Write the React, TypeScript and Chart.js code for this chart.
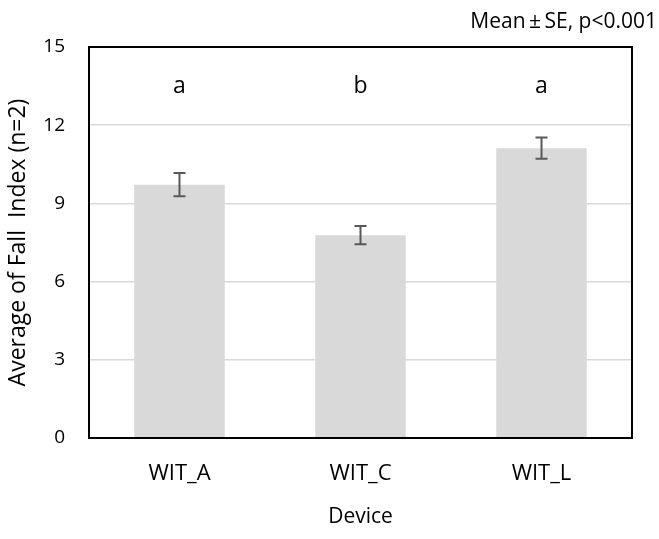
import { useEffect, useRef } from "react";
import { Chart, registerables } from "chart.js";

Chart.register(...registerables);

const categories = ["WIT_A", "WIT_C", "WIT_L"];
const means = [9.72, 7.78, 11.12];
const standardErrors = [0.45, 0.35, 0.41];
const groupLetters = ["a", "b", "a"];
const yTickValues = [0, 3, 6, 9, 12, 15];

const FONT = "'Open Sans', sans-serif";
const TEXT = "#000000";

const overlayPlugin = {
  id: "overlay",
  afterDatasetsDraw(chart: any) {
    const ctx = chart.ctx;
    const x = chart.scales.x;
    const y = chart.scales.y;
    ctx.save();
    // error bars
    ctx.strokeStyle = "#595959";
    ctx.lineWidth = 2;
    means.forEach((m, i) => {
      const px = x.getPixelForValue(i);
      const top = y.getPixelForValue(m + standardErrors[i]);
      const bot = y.getPixelForValue(m - standardErrors[i]);
      ctx.beginPath();
      ctx.moveTo(px, top);
      ctx.lineTo(px, bot);
      ctx.moveTo(px - 6, top);
      ctx.lineTo(px + 6, top);
      ctx.moveTo(px - 6, bot);
      ctx.lineTo(px + 6, bot);
      ctx.stroke();
    });
    // group letters
    ctx.fillStyle = TEXT;
    ctx.font = `23px ${FONT}`;
    ctx.textAlign = "center";
    ctx.textBaseline = "middle";
    groupLetters.forEach((l, i) => {
      ctx.fillText(l, x.getPixelForValue(i), y.getPixelForValue(13.5));
    });
    ctx.restore();
  },
  afterDraw(chart: any) {
    const ctx = chart.ctx;
    const a = chart.chartArea;
    ctx.save();
    // frame
    ctx.strokeStyle = "#000000";
    ctx.lineWidth = 2;
    ctx.strokeRect(a.left, a.top, a.right - a.left, a.bottom - a.top);
    // y title
    ctx.fillStyle = TEXT;
    ctx.font = `23px ${FONT}`;
    ctx.textAlign = "center";
    ctx.textBaseline = "middle";
    ctx.save();
    ctx.translate(18, (a.top + a.bottom) / 2);
    ctx.rotate(-Math.PI / 2);
    ctx.fillText("Average of Fall  Index (n=2)", 0, 0);
    ctx.restore();
    // x title
    ctx.font = `21px ${FONT}`;
    ctx.fillText("Device", (a.left + a.right) / 2, 517);
    // annotation
    ctx.font = `21px ${FONT}`;
    ctx.textAlign = "right";
    ctx.fillText("Mean\u2009\u00B1\u2009SE, p<0.001", 657, 22);
    ctx.restore();
  },
};

export default function App() {
  const ref = useRef<HTMLCanvasElement>(null);
  useEffect(() => {
    document.body.style.margin = "0";
    const chart = new Chart(ref.current as HTMLCanvasElement, {
      type: "bar",
      data: {
        labels: categories,
        datasets: [
          {
            data: means,
            backgroundColor: "#d9d9d9",
            borderWidth: 0,
            barPercentage: 0.5,
            categoryPercentage: 1,
          },
        ],
      },
      options: {
        responsive: false,
        animation: false,
        layout: { padding: { top: 47, right: 27, left: 0, bottom: 0 } },
        plugins: { legend: { display: false }, tooltip: { enabled: false } },
        scales: {
          x: {
            grid: { display: false },
            border: { display: false },
            ticks: { color: TEXT, font: { family: FONT, size: 22 }, padding: 15 },
            afterFit: (s: any) => {
              s.height = 101;
            },
          },
          y: {
            min: 0,
            max: 15,
            afterBuildTicks: (s: any) => {
              s.ticks = yTickValues.map((v) => ({ value: v }));
            },
            grid: { color: "#d9d9d9", lineWidth: 1.5, drawTicks: false },
            border: { display: false },
            ticks: { color: TEXT, font: { family: FONT, size: 19 }, padding: 24 },
            afterFit: (s: any) => {
              s.width = 89;
            },
          },
        },
      },
      plugins: [overlayPlugin],
    });
    return () => chart.destroy();
  }, []);
  return (
    <div style={{ width: 659, height: 539 }}>
      <canvas ref={ref} width={659} height={539} />
    </div>
  );
}
